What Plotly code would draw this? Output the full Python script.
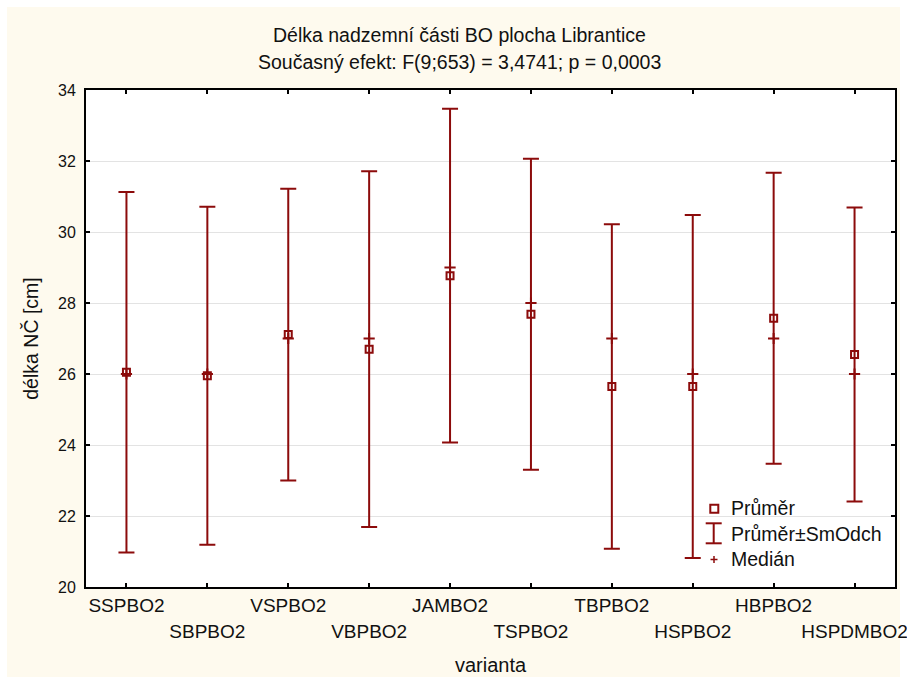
import plotly.graph_objects as go

categories = ["SSPBO2", "SBPBO2", "VSPBO2", "VBPBO2", "JAMBO2",
              "TSPBO2", "TBPBO2", "HSPBO2", "HBPBO2", "HSPDMBO2"]
means = [26.05, 25.95, 27.11, 26.70, 28.77, 27.68, 25.65, 25.65, 27.57, 26.55]
sds = [5.08, 4.76, 4.11, 5.01, 4.70, 4.38, 4.57, 4.83, 4.10, 4.14]
medians = [26.0, 26.0, 27.0, 27.0, 29.0, 28.0, 27.0, 26.0, 27.0, 26.0]
yticks = [20, 22, 24, 26, 28, 30, 32, 34]
legend_labels = ["Průměr", "Průměr±SmOdch", "Medián"]

title1 = "Délka nadzemní části BO plocha Librantice"
title2 = "Současný efekt: F(9;653) = 3,4741; p = 0,0003"

RED = "#8C0B0B"
CREAM = "#FEFAEE"
FONT = "Liberation Sans, Arial, sans-serif"
TXT = "#111111"

W_FIG, H_FIG = 907, 684
L, R, T, B = 86, 12, 90, 97
PW = W_FIG - L - R
PH = H_FIG - T - B


def px(x):
    return (x - L) / PW


def py(y):
    return (T + PH - y) / PH


fig = go.Figure()

fig.add_trace(go.Scatter(
    x=categories, y=medians, xaxis="x2", yaxis="y",
    mode="markers",
    marker=dict(symbol="cross-thin", size=8, line=dict(color=RED, width=2), color=RED),
    showlegend=False, hoverinfo="skip",
))

fig.add_trace(go.Scatter(
    x=categories, y=means, mode="markers",
    marker=dict(symbol="square-open", size=7, color=RED, line=dict(color=RED, width=2)),
    error_y=dict(type="data", array=sds, symmetric=True, color=RED, thickness=2, width=8),
    showlegend=False, hoverinfo="skip",
))

row1 = [c if i % 2 == 0 else "" for i, c in enumerate(categories)]
row2 = [c if i % 2 == 1 else "" for i, c in enumerate(categories)]

shapes = [
    dict(type="rect", xref="paper", yref="paper", layer="below",
         x0=px(7), x1=px(900), y0=py(677), y1=py(7),
         fillcolor=CREAM, line=dict(width=0)),
    dict(type="rect", xref="paper", yref="paper", layer="below",
         x0=0, x1=1, y0=0, y1=1, fillcolor="white", line=dict(width=0)),
]

# manual legend glyphs
sx, sy = 714.3, 508.7
shapes.append(dict(type="rect", xref="paper", yref="paper",
                   x0=px(sx - 4), x1=px(sx + 4), y0=py(sy + 4), y1=py(sy - 4),
                   line=dict(color=RED, width=2), fillcolor="rgba(0,0,0,0)"))
ix, iy0, iy1 = 713.7, 523.3, 543.3
shapes.append(dict(type="line", xref="paper", yref="paper",
                   x0=px(ix), x1=px(ix), y0=py(iy0), y1=py(iy1), line=dict(color=RED, width=2)))
for yy in (iy0, iy1):
    shapes.append(dict(type="line", xref="paper", yref="paper",
                       x0=px(ix - 8), x1=px(ix + 8), y0=py(yy), y1=py(yy),
                       line=dict(color=RED, width=2)))
cx, cy = 714, 559.5
shapes.append(dict(type="line", xref="paper", yref="paper",
                   x0=px(cx - 3.5), x1=px(cx + 3.5), y0=py(cy), y1=py(cy), line=dict(color=RED, width=1.5)))
shapes.append(dict(type="line", xref="paper", yref="paper",
                   x0=px(cx), x1=px(cx), y0=py(cy - 3.5), y1=py(cy + 3.5), line=dict(color=RED, width=1.5)))

annotations = []
for lab, yy in zip(legend_labels, [508, 534, 559]):
    annotations.append(dict(text=lab, xref="paper", yref="paper", x=px(729), y=py(yy),
                            xanchor="left", yanchor="middle", showarrow=False,
                            font=dict(family=FONT, size=19.5, color=TXT)))

annotations.append(dict(text=title1, xref="paper", yref="paper", x=px(459), y=py(35),
                        xanchor="center", yanchor="middle", showarrow=False,
                        font=dict(family=FONT, size=19.5, color=TXT)))
annotations.append(dict(text=title2, xref="paper", yref="paper", x=px(459), y=py(62),
                        xanchor="center", yanchor="middle", showarrow=False,
                        font=dict(family=FONT, size=19.5, color=TXT)))

axis_common = dict(type="category", categoryorder="array", categoryarray=categories,
                   range=[-0.5, len(categories) - 0.5])

fig.update_layout(
    width=W_FIG, height=H_FIG,
    margin=dict(l=L, r=R, t=T, b=B),
    paper_bgcolor="white", plot_bgcolor="white",
    font=dict(family=FONT, size=17, color=TXT),
    showlegend=False,
    shapes=shapes, annotations=annotations,
    xaxis=dict(**axis_common, tickmode="array", tickvals=categories, ticktext=row1,
               ticks="inside", ticklen=4, tickwidth=1.5, tickcolor="black",
               showline=True, linecolor="black", linewidth=2, mirror="ticks",
               showgrid=False, zeroline=False,
               tickfont=dict(family=FONT, size=19, color=TXT),
               title=dict(text="varianta", font=dict(family=FONT, size=20, color=TXT), standoff=43),
               automargin=False),
    xaxis2=dict(**axis_common, overlaying="x", anchor="y", side="bottom",
                tickmode="array", tickvals=categories, ticktext=row2,
                ticks="", showline=False, showgrid=False, zeroline=False,
                ticklabelstandoff=31,
                tickfont=dict(family=FONT, size=19, color=TXT),
                automargin=False),
    yaxis=dict(range=[20, 34], tickmode="array", tickvals=yticks,
               ticks="inside", ticklen=4, tickwidth=1.5, tickcolor="black",
               showline=True, linecolor="black", linewidth=2, mirror="ticks",
               showgrid=True, gridcolor="#E3E3E3", gridwidth=1, zeroline=False,
               ticklabelstandoff=5,
               tickfont=dict(family=FONT, size=16, color=TXT),
               title=dict(text="délka NČ [cm]", font=dict(family=FONT, size=19.5, color=TXT), standoff=14),
               automargin=False),
)

fig.write_html("out.html")
